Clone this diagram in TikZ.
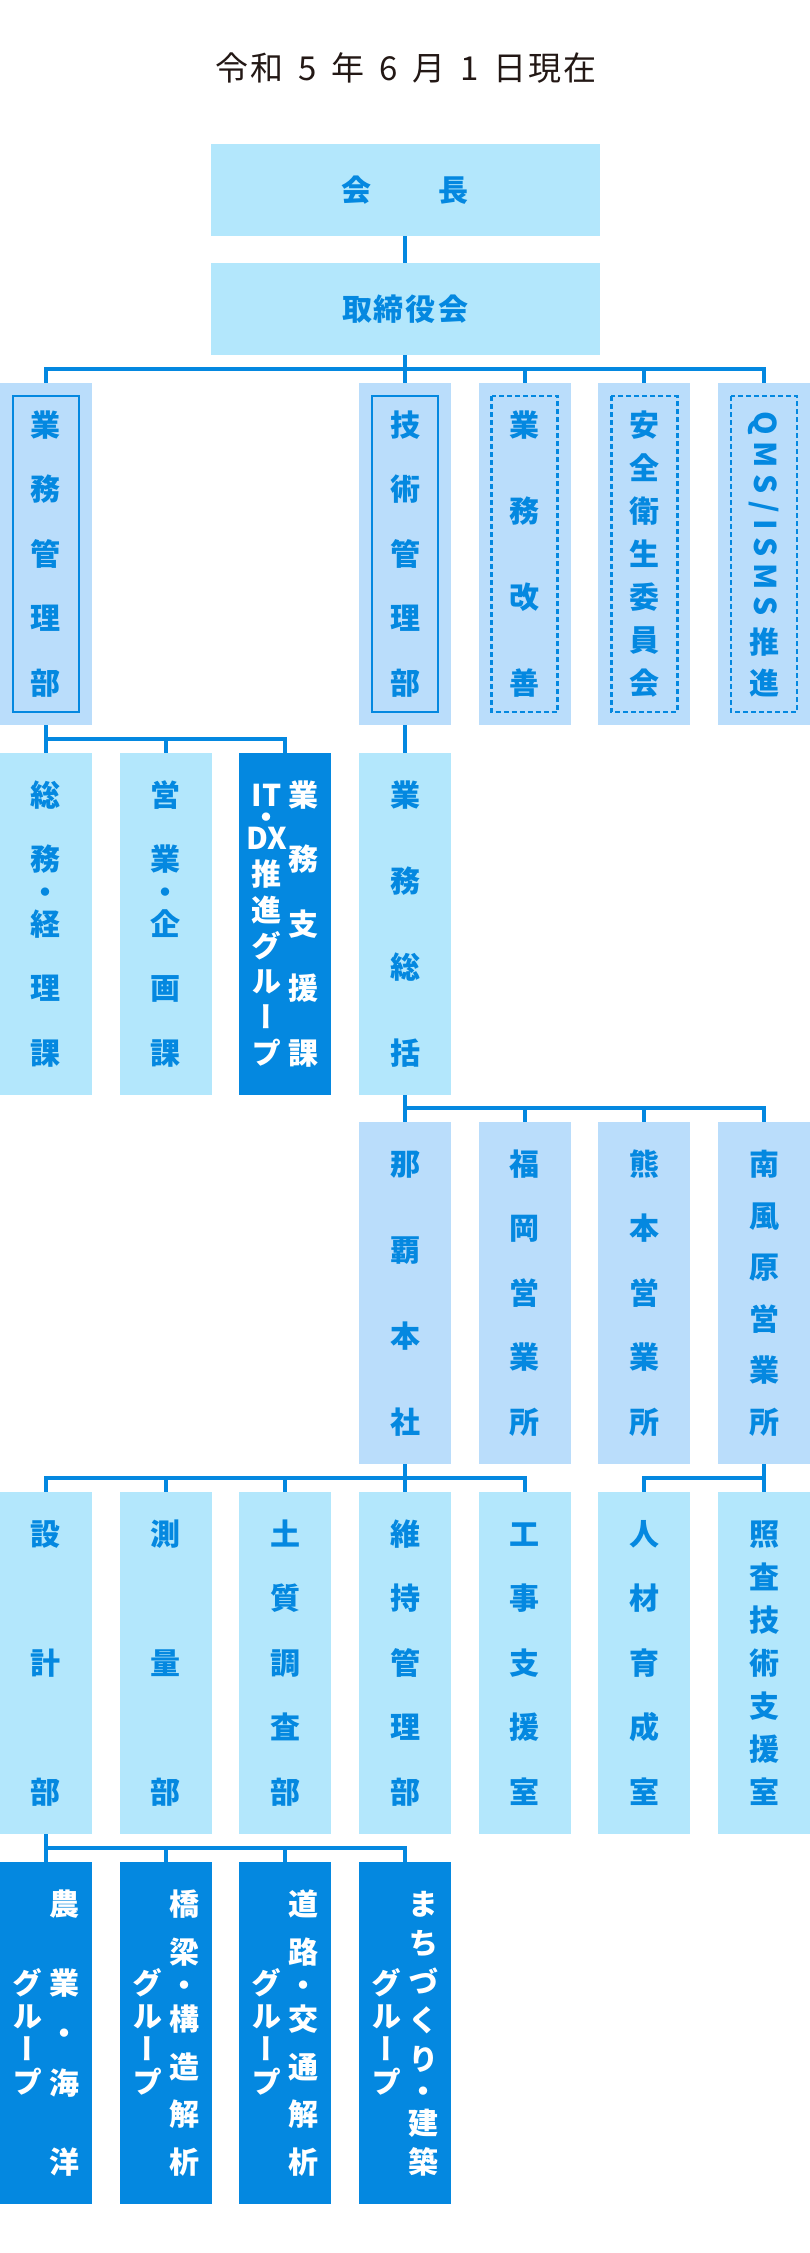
\documentclass[tikz,border=0pt]{standalone}
\usepackage{fontspec}
\usepackage{graphicx}
\setmainfont{Noto Sans CJK JP}
\newfontfamily\tatefont{Noto Sans CJK JP}[RawFeature=+vert]
\definecolor{OrgPale}{RGB}{179,231,252}
\definecolor{OrgMist}{RGB}{186,221,251}
\definecolor{OrgBlue}{RGB}{4,136,224}
\definecolor{OrgInk}{RGB}{35,24,21}

% one character of a vertical label
\newcommand{\kc}[1]{\hbox to 32pt{\hss\raisebox{2.6pt}[28pt][0pt]{#1}\hss}}
% middle dot, no height / half height
\newcommand{\kz}{\hbox to 32pt{\hss\raisebox{-11.4pt}[0pt][0pt]{・}\hss}}
\newcommand{\kd}{\hbox to 32pt{\hss\raisebox{-4.4pt}[14pt][0pt]{・}\hss}}
% latin letters turned on their side
\newcommand{\kr}[1]{\setbox0\hbox{\rotatebox{-90}{#1}}\hbox to 32pt{\hss\raise\dp0\box0\hss}}
\newcommand{\hf}{\vskip 0pt plus .5fill}
\newcommand{\tate}[1]{\vbox to 286pt{\offinterlineskip #1}}
\def\tend{TEND}
\def\tloop#1{\ifx#1\tend\else\vfill\kc{#1}\expandafter\tloop\fi}
\def\tfirst#1{\kc{#1}\tloop}
\newcommand{\tatefill}[1]{\tate{\tfirst#1\tend}}
\newcommand{\grp}{\vbox to 286pt{\offinterlineskip\vfill\kc{グ}\kern5pt\kc{ル}\kern5pt\kc{ー}\kern5pt\kc{プ}\vfill}}

\begin{document}
\begin{tikzpicture}[x=1pt,y=-1pt,
  unit/.style={rectangle,minimum width=92pt,minimum height=342pt,inner sep=0pt,text=OrgBlue,
    font=\tatefont\bfseries\fontsize{30pt}{30pt}\selectfont},
  mist/.style={unit,fill=OrgMist},
  pale/.style={unit,fill=OrgPale},
  deep/.style={unit,fill=OrgBlue,text=white},
  head/.style={rectangle,minimum width=389pt,minimum height=92pt,inner sep=0pt,fill=OrgPale,text=OrgBlue,
    font=\bfseries\fontsize{30pt}{30pt}\selectfont},
  solidframe/.style={path picture={\draw[OrgBlue,line width=2pt]
    ([shift={(13pt,-13pt)}]path picture bounding box.north west) rectangle
    ([shift={(-13pt,13pt)}]path picture bounding box.south east);}},
  dashframe/.style={path picture={\draw[OrgBlue,line width=2.4pt,dash pattern=on 5pt off 3pt]
    ([shift={(13pt,-13pt)}]path picture bounding box.north west) rectangle
    ([shift={(-13pt,13pt)}]path picture bounding box.south east);}},
  link/.style={OrgBlue,line width=4pt}]
\useasboundingbox (0,0) rectangle (810,2253);

\node[text=OrgInk,font=\fontsize{33pt}{33pt}\selectfont] (asof) at (406,68)
  {令\kern2pt 和\kern15pt 5\kern15pt 年\kern15pt 6\kern15pt 月\kern15pt 1\kern15pt 日\kern2pt 現\kern2pt 在};

% top
\node[head] (kaicho) at (405,190) {会\hspace{67pt}長};
\node[head] (torishimari) at (405,309) {取\kern2pt 締\kern2pt 役\kern2pt 会};

% first row
\node[mist,solidframe] (gyomukanri) at (46,554) {\tatefill{業務管理部}};
\node[mist,solidframe] (gijutsu) at (405,554) {\tatefill{技術管理部}};
\node[mist,dashframe] (kaizen) at (524.67,554) {\tatefill{業務改善}};
\node[mist,dashframe] (anzen) at (644.33,554) {\tatefill{安全衛生委員会}};
\node[mist,dashframe] (qms) at (764,554)
  {\tate{\kr{Q\kern7pt M\kern7pt S\kern7pt /\kern7pt I\kern7pt S\kern7pt M\kern7pt S}\vfill\kc{推}\vfill\kc{進}}};

% second row
\node[pale] (somu) at (46,924) {\tate{\kc{総}\vfill\kc{務}\hf\kz\hf\kc{経}\vfill\kc{理}\vfill\kc{課}}};
\node[pale] (eigyo) at (165.67,924) {\tate{\kc{営}\vfill\kc{業}\hf\kz\hf\kc{企}\vfill\kc{画}\vfill\kc{課}}};
\node[deep] (itdx) at (285.33,924)
  {\tate{\kc{IT}\vfill\kz\vfill\kc{DX}\vfill\kc{推}\vfill\kc{進}\vfill\kc{グ}\vfill\kc{ル}\vfill\kc{ー}\vfill\kc{プ}}\kern5pt\tatefill{業務支援課}};
\node[pale] (sokatsu) at (405,924) {\tatefill{業務総括}};

% offices
\node[mist] (naha) at (405,1293) {\tatefill{那覇本社}};
\node[mist] (fukuoka) at (524.67,1293) {\tatefill{福岡営業所}};
\node[mist] (kumamoto) at (644.33,1293) {\tatefill{熊本営業所}};
\node[mist] (haebaru) at (764,1293) {\tatefill{南風原営業所}};

% departments
\node[pale] (sekkei) at (46,1663) {\tatefill{設計部}};
\node[pale] (sokuryo) at (165.67,1663) {\tatefill{測量部}};
\node[pale] (dositsu) at (285.33,1663) {\tatefill{土質調査部}};
\node[pale] (iji) at (405,1663) {\tatefill{維持管理部}};
\node[pale] (koji) at (524.67,1663) {\tatefill{工事支援室}};
\node[pale] (jinzai) at (644.33,1663) {\tatefill{人材育成室}};
\node[pale] (shosa) at (764,1663) {\tatefill{照査技術支援室}};

% groups
\node[deep] (nogyo) at (46,2033)
  {\grp\kern5pt\tate{\kc{農}\vfill\kc{業}\kern36pt\kz\kern36pt\kc{海}\vfill\kc{洋}}};
\node[deep] (kyoryo) at (165.67,2033)
  {\grp\kern5pt\tate{\kc{橋}\vfill\kc{梁}\vfill\kz\vfill\kc{構}\vfill\kc{造}\vfill\kc{解}\vfill\kc{析}}};
\node[deep] (doro) at (285.33,2033)
  {\grp\kern5pt\tate{\kc{道}\vfill\kc{路}\vfill\kz\vfill\kc{交}\vfill\kc{通}\vfill\kc{解}\vfill\kc{析}}};
\node[deep] (machi) at (405,2033)
  {\grp\kern5pt\tate{\kc{ま}\vfill\kc{ち}\vfill\kc{づ}\vfill\kc{く}\vfill\kc{り}\vfill\kd\vfill\kc{建}\vfill\kc{築}}};

% bus lines
\coordinate (bus0) at (0,369);
\coordinate (bus1) at (0,739);
\coordinate (bus2) at (0,1108);
\coordinate (bus3) at (0,1478);
\coordinate (bus4) at (0,1848);

\draw[link] (kaicho) -- (torishimari);
\draw[link] (torishimari) -- (gijutsu);
\draw[link] (gyomukanri.north) |- (bus0 -| gijutsu) -| (qms.north);
\draw[link] (kaizen.north) -- (kaizen.north |- bus0);
\draw[link] (anzen.north) -- (anzen.north |- bus0);

\draw[link] (gyomukanri) -- (somu);
\draw[link] (somu.north |- bus1) -| (itdx.north);
\draw[link] (eigyo.north) -- (eigyo.north |- bus1);
\draw[link] (gijutsu) -- (sokatsu);

\draw[link] (sokatsu) -- (naha);
\draw[link] (naha.north |- bus2) -| (haebaru.north);
\draw[link] (fukuoka.north) -- (fukuoka.north |- bus2);
\draw[link] (kumamoto.north) -- (kumamoto.north |- bus2);

\draw[link] (naha) -- (iji);
\draw[link] (sekkei.north) |- (bus3 -| naha) -| (koji.north);
\draw[link] (sokuryo.north) -- (sokuryo.north |- bus3);
\draw[link] (dositsu.north) -- (dositsu.north |- bus3);
\draw[link] (haebaru) -- (shosa);
\draw[link] (jinzai.north) |- (bus3 -| haebaru);

\draw[link] (sekkei) -- (nogyo);
\draw[link] (nogyo.north |- bus4) -| (machi.north);
\draw[link] (kyoryo.north) -- (kyoryo.north |- bus4);
\draw[link] (doro.north) -- (doro.north |- bus4);
\end{tikzpicture}
\end{document}
